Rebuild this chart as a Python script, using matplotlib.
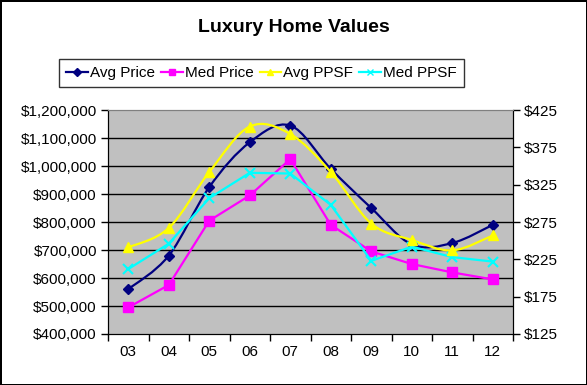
import matplotlib
matplotlib.use('Agg')
import matplotlib.pyplot as plt
from matplotlib.path import Path
from matplotlib.patches import PathPatch
from matplotlib.lines import Line2D
import numpy as np

plt.rcParams['font.family'] = ['Liberation Sans', 'DejaVu Sans']

# datos
years = ['03', '04', '05', '06', '07', '08', '09', '10', '11', '12']
avg_price = [560000, 680000, 925000, 1085000, 1145000, 990000, 850000, 720000, 725000, 790000]
med_price = [495000, 575000, 805000, 895000, 1025000, 790000, 695000, 650000, 620000, 595000]
avg_ppsf = [241, 267, 342, 403, 393, 342, 273, 251, 237, 257]
med_ppsf = [212, 246, 307, 341, 340, 298, 223, 242, 228, 222]

left_ticks = list(range(400000, 1200001, 100000))
right_ticks = list(range(125, 426, 50))


def curva_suave(ax, xs, ys, color, lw, zorder):
    """Curva tipo 'suavizada' de Excel (Bezier por segmentos)."""
    pts = np.column_stack([xs, ys]).astype(float)
    n = len(pts)
    verts = [pts[0]]
    codes = [Path.MOVETO]
    for i in range(n - 1):
        p0 = pts[i - 1] if i > 0 else pts[i]
        p1 = pts[i]
        p2 = pts[i + 1]
        p3 = pts[i + 2] if i + 2 < n else pts[i + 1]
        c1 = p1 + (p2 - p0) / 6.0
        c2 = p2 - (p3 - p1) / 6.0
        verts += [c1, c2, p2]
        codes += [Path.CURVE4] * 3
    patch = PathPatch(Path(verts, codes), facecolor='none', edgecolor=color,
                      lw=lw, zorder=zorder, capstyle='round', joinstyle='round')
    ax.add_patch(patch)


fig = plt.figure(figsize=(5.87, 3.85), dpi=100, edgecolor='black', linewidth=2)
ax1 = fig.add_axes([0.184, 0.1325, 0.690, 0.5815])
ax2 = ax1.twinx()

x = np.arange(len(years))

ax1.set_facecolor('#C0C0C0')
for t in left_ticks[1:-1]:
    ax1.axhline(t, color='black', lw=1, zorder=1)

# eje principal
curva_suave(ax1, x, avg_price, '#000080', 1.6, 3)
ax1.plot(x, avg_price, 'D', color='#000080', ms=5, zorder=4)
ax1.plot(x, med_price, '-s', color='#FF00FF', lw=1.6, ms=7, zorder=3)

# eje secundario
curva_suave(ax2, x, avg_ppsf, '#FFFF00', 1.6, 3)
ax2.plot(x, avg_ppsf, '^', color='#FFFF00', ms=7, zorder=4)
ax2.plot(x, med_ppsf, '-x', color='#00FFFF', lw=1.6, ms=7, mew=1.5, zorder=3)

ax1.set_xlim(-0.5, len(years) - 0.5)
ax1.set_ylim(400000, 1200000)
ax2.set_ylim(125, 425)

ax1.set_yticks(left_ticks)
ax1.set_yticklabels(['${:,.0f}'.format(v) for v in left_ticks])
ax2.set_yticks(right_ticks)
ax2.set_yticklabels(['${}'.format(v) for v in right_ticks])

ax1.set_xticks(np.arange(-0.5, len(years), 1.0))
ax1.set_xticklabels([])
ax1.set_xticks(x, minor=True)
ax1.set_xticklabels(years, minor=True)

ax1.tick_params(axis='y', direction='out', length=5, width=1, labelsize=11, pad=3)
ax2.tick_params(axis='y', direction='out', length=5, width=1, labelsize=11, pad=3)
ax1.tick_params(axis='x', which='major', direction='out', length=5, width=1)
ax1.tick_params(axis='x', which='minor', length=0, labelsize=11, pad=8)

for ax in (ax1, ax2):
    ax.spines['top'].set_color('#808080')
    ax.spines['left'].set_color('black')
    ax.spines['bottom'].set_color('black')
    ax.spines['right'].set_color('black')

fig.suptitle('Luxury Home Values', fontsize=14, fontweight='bold', y=0.95)

handles = [
    Line2D([], [], color='#000080', lw=1.6, marker='D', ms=4),
    Line2D([], [], color='#FF00FF', lw=1.6, marker='s', ms=5),
    Line2D([], [], color='#FFFF00', lw=1.6, marker='^', ms=5),
    Line2D([], [], color='#00FFFF', lw=1.6, marker='x', ms=5),
]
leg = fig.legend(handles, ['Avg Price', 'Med Price', 'Avg PPSF', 'Med PPSF'],
                 loc='center', bbox_to_anchor=(261.5 / 587, 1 - 73 / 385), ncol=4,
                 fontsize=11, frameon=True, fancybox=False, edgecolor='black',
                 handlelength=1.4, handletextpad=0.15, columnspacing=0.4,
                 borderpad=0.45, borderaxespad=0, markerscale=1.0)
leg.get_frame().set_linewidth(1)

plt.savefig('out.png', dpi=100)
